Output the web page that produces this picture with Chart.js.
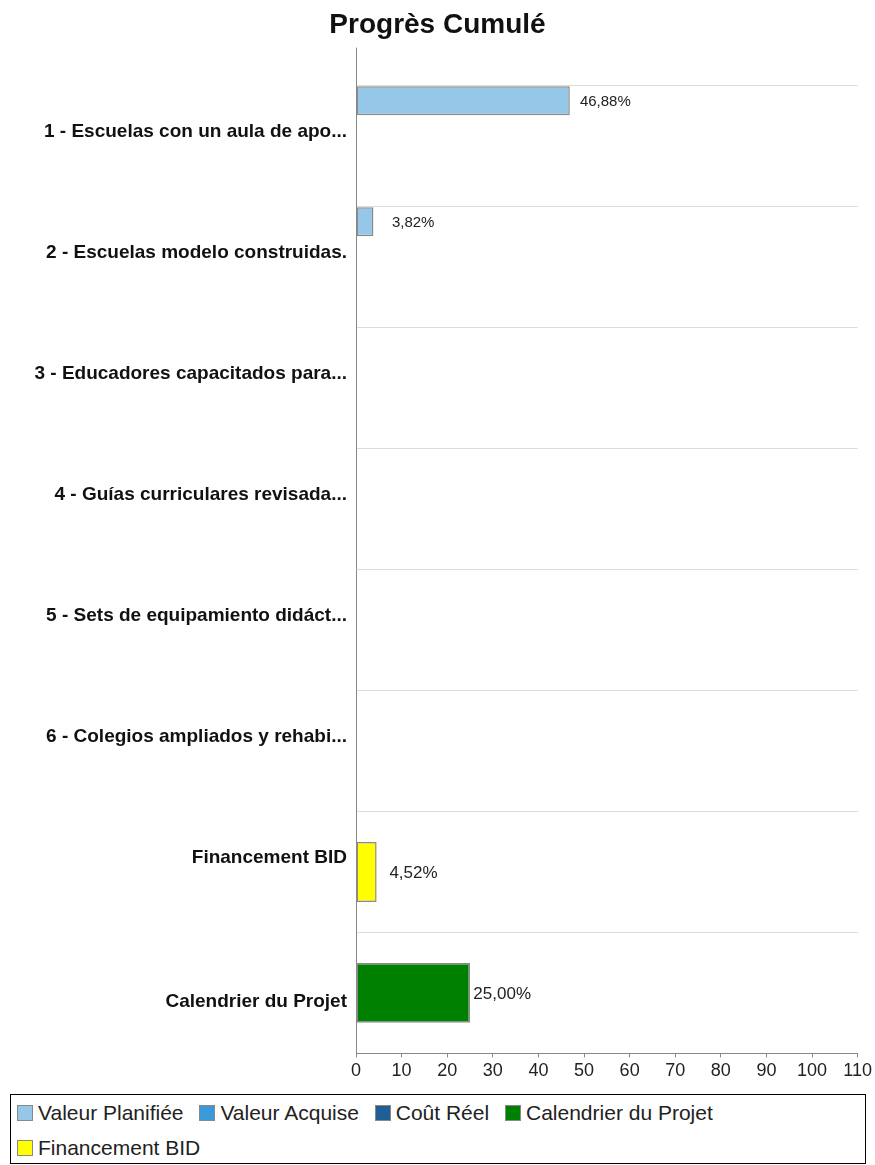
<!DOCTYPE html>
<html>
<head>
<meta charset="utf-8">
<script src="https://cdn.jsdelivr.net/npm/chart.js@4/dist/chart.umd.min.js"></script>
<style>
  body { margin: 0; background: #fff; }
  #wrap { position: relative; width: 875px; height: 1090px; }
  #legend {
    position: absolute; left: 10px; top: 1094px; width: 856px; height: 70px;
    border: 1px solid #000; box-sizing: border-box;
    font-family: 'Liberation Sans', Arial, sans-serif; font-size: 21px; color: #222;
    line-height: 35px; padding: 0 0 0 6px;
  }
  #legend span.item { display: inline-block; margin-right: 10px; white-space: nowrap; }
  #legend i {
    display: inline-block; width: 14px; height: 14px; border: 1px solid #888;
    vertical-align: -1px; margin-right: 5px;
  }
</style>
</head>
<body>
<div id="wrap"><canvas id="chart-progres"></canvas></div>
<div id="legend"></div>
<script>
var categories = [
  '1 - Escuelas con un aula de apo...',
  '2 - Escuelas modelo construidas.',
  '3 - Educadores capacitados para...',
  '4 - Guías curriculares revisada...',
  '5 - Sets de equipamiento didáct...',
  '6 - Colegios ampliados y rehabi...',
  'Financement BID',
  'Calendrier du Projet'
];
var valeurPlanifiee = [46.88, 3.82, 0, 0, 0, 0, null, null];
var valeurAcquise   = [0, 0, 0, 0, 0, 0, null, null];
var coutReel        = [0, 0, 0, 0, 0, 0, null, null];
var calendrier      = [0, 0, 0, 0, 0, 0, null, 25.00];
var financement     = [null, null, null, null, null, null, 4.52, null];
var xTicks = [0, 10, 20, 30, 40, 50, 60, 70, 80, 90, 100, 110];

var fontFamily = "'Liberation Sans', Arial, sans-serif";

var series = [
  { label: 'Valeur Planifiée', data: valeurPlanifiee, color: '#95c8e8', bp: 0.96, labelSize: 15 },
  { label: 'Valeur Acquise', data: valeurAcquise, color: '#3a9ad9', bp: 0.96, labelSize: 15 },
  { label: 'Coût Réel', data: coutReel, color: '#1f5f96', bp: 0.96, labelSize: 15 },
  { label: 'Calendrier du Projet', data: calendrier, color: '#008000', bp: 0.495, labelSize: 17 },
  { label: 'Financement BID', data: financement, color: '#ffff00', bp: 0.495, labelSize: 17 }
];

// value labels next to the bars + axis line stub above the plot
var barLabels = {
  id: 'barLabels',
  afterDatasetsDraw(chart) {
    var ctx = chart.ctx;
    ctx.save();
    chart.data.datasets.forEach((ds, i) => {
      var meta = chart.getDatasetMeta(i);
      meta.data.forEach((el, j) => {
        var v = ds.data[j];
        if (!v) return;
        ctx.font = series[i].labelSize + 'px ' + fontFamily;
        ctx.fillStyle = '#222';
        ctx.textBaseline = 'middle';
        ctx.textAlign = 'right';
        ctx.fillText(v.toFixed(2).replace('.', ',') + '%', el.x + 61, el.y + 1);
      });
    });
    var a = chart.chartArea;
    ctx.strokeStyle = '#888';
    ctx.lineWidth = 1;
    ctx.beginPath();
    ctx.moveTo(a.left + 0.5, a.top - 38);
    ctx.lineTo(a.left + 0.5, a.top);
    ctx.stroke();
    ctx.restore();
  }
};

var chartProgres = new Chart(
  document.getElementById('chart-progres').getContext('2d'),
  { type: 'bar',
    data: {
      labels: categories,
      datasets: series.map(s => ({
        label: s.label,
        data: s.data,
        backgroundColor: s.color,
        borderColor: '#8a8a8a',
        borderWidth: ctx => (ctx.raw ? 1.5 : 0),
        borderSkipped: false,
        barPercentage: s.bp,
        categoryPercentage: 1
      }))
    },
    options: {
      indexAxis: 'y',
      responsive: true,
      maintainAspectRatio: false,
      animation: false,
      skipNull: true,
      layout: { padding: { top: 8, right: 0, bottom: 5, left: 0 } },
      plugins: {
        legend: { display: false },
        tooltip: { enabled: false },
        title: {
          display: true,
          text: 'Progrès Cumulé',
          color: '#111',
          font: { family: fontFamily, size: 28, weight: 'bold' },
          padding: { top: 0, bottom: 44 }
        }
      },
      scales: {
        x: {
          min: 0,
          max: 110,
          afterBuildTicks: scale => { scale.ticks = xTicks.map(v => ({ value: v })); },
          grid: { drawOnChartArea: false, drawTicks: true, tickLength: 4, color: '#888' },
          border: { color: '#888' },
          ticks: {
            color: '#222',
            padding: 3,
            maxRotation: 0,
            font: { family: fontFamily, size: 18 }
          }
        },
        y: {
          afterFit: scale => { scale.width = 356; },
          grid: { drawTicks: false, color: '#dcdcdc' },
          border: { color: '#888' },
          ticks: {
            color: '#111',
            padding: 9,
            labelOffset: -14,
            // the last row's label sits lower, beside the bottom of its bar
            callback: (v, i) => (i === categories.length - 1 ? ['', '', categories[i]] : categories[i]),
            font: { family: fontFamily, size: 19, weight: 'bold' }
          }
        }
      }
    },
    plugins: [barLabels]
  }
); /* <-- End 'chartProgres' */

// legend box under the chart
var legendOrder = [0, 1, 2, 3, 4];
document.getElementById('legend').innerHTML = legendOrder.map(i =>
  '<span class="item"><i style="background:' + series[i].color + '"></i>' + series[i].label + '</span>'
).join(' ');
</script>
</body>
</html>
